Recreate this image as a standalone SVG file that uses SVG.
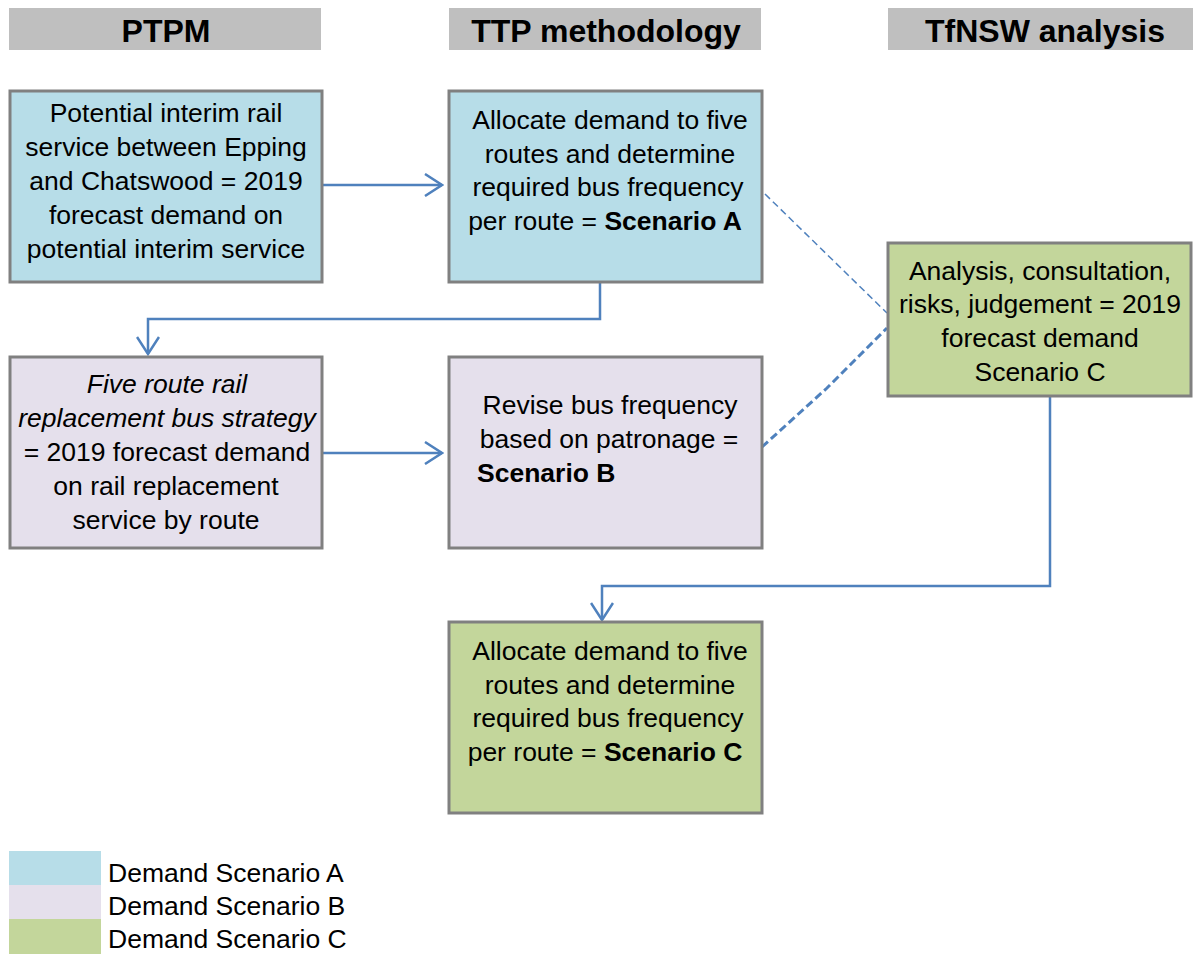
<svg xmlns="http://www.w3.org/2000/svg" width="1193" height="954" viewBox="0 0 1193 954">
<style>
.hdr{fill:#BFBFBF}
.ht{font-family:"Liberation Sans",Arial,sans-serif;font-weight:bold;font-size:32px;fill:#000;text-anchor:middle}
.box{stroke:#808080;stroke-width:3}
.a{fill:#B7DDE8}.b{fill:#E5E0EC}.c{fill:#C3D69B}
.t{font-family:"Liberation Sans",Arial,sans-serif;font-size:26.5px;fill:#000;text-anchor:middle}
.bold{font-weight:bold}
.con{fill:none;stroke:#4F81BD;stroke-width:2.5}
.lg{font-family:"Liberation Sans",Arial,sans-serif;font-size:26.5px;fill:#000}
</style>
<defs>
<marker id="arr" markerWidth="20" markerHeight="24" refX="18" refY="12" orient="auto" markerUnits="userSpaceOnUse">
<path d="M1,1 L18,12 L1,23" fill="none" stroke="#4F81BD" stroke-width="2.5"/>
</marker>
</defs>
<g id="headers">
<rect class="hdr" x="9" y="8" width="312" height="42"/>
<text class="ht" x="166" y="42">PTPM</text>
<rect class="hdr" x="449" y="8" width="312" height="42"/>
<text class="ht" x="606" y="42">TTP methodology</text>
<rect class="hdr" x="888" y="8" width="305" height="42"/>
<text class="ht" x="1045" y="42">TfNSW analysis</text>
</g>
<g id="connectors">
<line class="con" x1="323" y1="185" x2="442" y2="185" marker-end="url(#arr)"/>
<polyline class="con" points="600,283 600,319 148,319 148,354" marker-end="url(#arr)"/>
<line class="con" x1="323" y1="453" x2="442" y2="453" marker-end="url(#arr)"/>
<polyline class="con" points="1050,397 1050,586 602,586 602,620" marker-end="url(#arr)"/>
<line x1="765" y1="194" x2="887" y2="313" stroke="#4F81BD" stroke-width="1.5" stroke-dasharray="7,4" fill="none"/>
<path d="M762,447 L827,388 L887,328" stroke="#4F81BD" stroke-width="3" stroke-dasharray="8,4" fill="none"/>
</g>
<g id="node-ptpm-a">
<rect class="box a" x="10" y="91" width="312" height="191"/>
<text class="t" x="166" y="122">Potential interim rail</text>
<text class="t" x="166" y="156">service between Epping</text>
<text class="t" x="166" y="190">and Chatswood = 2019</text>
<text class="t" x="166" y="224">forecast demand on</text>
<text class="t" x="166" y="258">potential interim service</text>
</g>
<g id="node-ttp-a">
<rect class="box a" x="449" y="91" width="313" height="191"/>
<text class="t" x="610" y="129">Allocate demand to five</text>
<text class="t" x="610" y="163">routes and determine</text>
<text class="t" x="608" y="196">required bus frequency</text>
<text class="t" x="605" y="230">per route = <tspan class="bold">Scenario A</tspan></text>
</g>
<g id="node-tfnsw-c">
<rect class="box c" x="888" y="243" width="303" height="153"/>
<text class="t" x="1040" y="280">Analysis, consultation,</text>
<text class="t" x="1040" y="313">risks, judgement = 2019</text>
<text class="t" x="1040" y="347">forecast demand</text>
<text class="t" x="1040" y="381">Scenario C</text>
</g>
<g id="node-ptpm-b">
<rect class="box b" x="10" y="357" width="312" height="191"/>
<text class="t" x="167" y="393" font-style="italic">Five route rail</text>
<text class="t" x="167" y="427" font-style="italic">replacement bus strategy</text>
<text class="t" x="167" y="461">= 2019 forecast demand</text>
<text class="t" x="166" y="495">on rail replacement</text>
<text class="t" x="166" y="529">service by route</text>
</g>
<g id="node-ttp-b">
<rect class="box b" x="449" y="357" width="313" height="191"/>
<text class="t" x="610" y="414">Revise bus frequency</text>
<text class="t" x="609" y="448">based on patronage =</text>
<text class="t bold" x="477" y="482" style="text-anchor:start">Scenario B</text>
</g>
<g id="node-ttp-c">
<rect class="box c" x="449" y="622" width="313" height="191"/>
<text class="t" x="610" y="660">Allocate demand to five</text>
<text class="t" x="610" y="694">routes and determine</text>
<text class="t" x="608" y="727">required bus frequency</text>
<text class="t" x="605" y="761">per route = <tspan class="bold">Scenario C</tspan></text>
</g>
<g id="legend">
<rect class="a" x="9" y="851" width="92" height="34"/>
<rect class="b" x="9" y="885" width="92" height="34"/>
<rect class="c" x="9" y="919" width="92" height="35"/>
<text class="lg" x="108" y="882">Demand Scenario A</text>
<text class="lg" x="108" y="915">Demand Scenario B</text>
<text class="lg" x="108" y="948">Demand Scenario C</text>
</g>
</svg>
